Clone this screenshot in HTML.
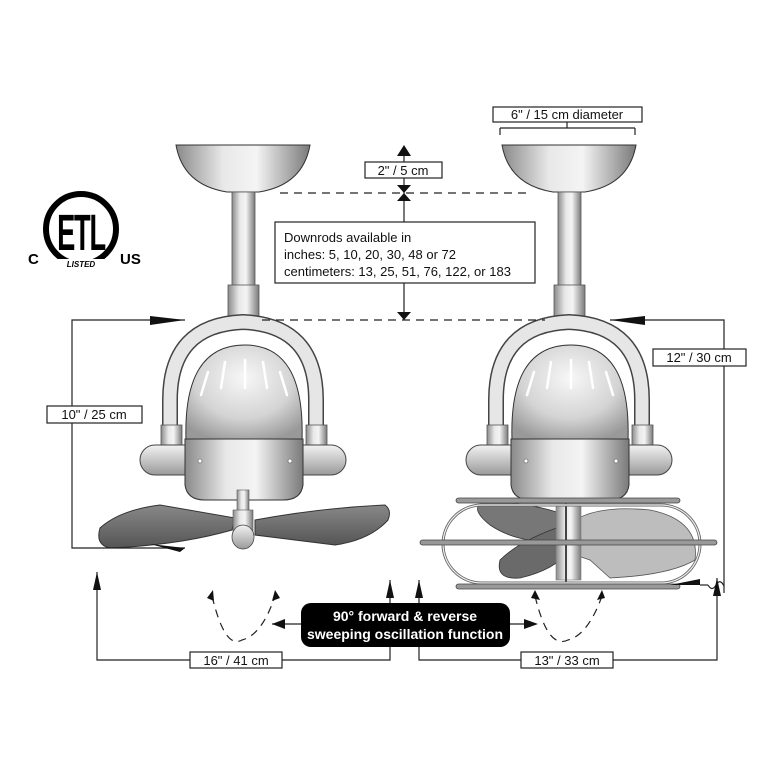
<!DOCTYPE html>
<html><head><meta charset="utf-8"><style>
html,body{margin:0;padding:0;background:#fff}
svg{display:block}
text{font-family:"Liberation Sans",sans-serif}
</style></head><body>
<svg width="780" height="780" viewBox="0 0 780 780" xmlns="http://www.w3.org/2000/svg">
<defs>
<linearGradient id="g" x1="0" x2="1" y1="0" y2="0">
<stop offset="0" stop-color="#8a8a8a"/><stop offset="0.35" stop-color="#e8e8e8"/><stop offset="0.6" stop-color="#f4f4f4"/><stop offset="1" stop-color="#7a7a7a"/>
</linearGradient>
<linearGradient id="gv" x1="0" x2="0" y1="0" y2="1">
<stop offset="0" stop-color="#f2f2f2"/><stop offset="1" stop-color="#9a9a9a"/>
</linearGradient>
<radialGradient id="egg" cx="0.5" cy="0.35" r="0.7">
<stop offset="0" stop-color="#f7f7f7"/><stop offset="0.6" stop-color="#d4d4d4"/><stop offset="1" stop-color="#999"/>
</radialGradient>
<linearGradient id="blade" x1="0" x2="0" y1="0" y2="1">
<stop offset="0" stop-color="#888"/><stop offset="1" stop-color="#555"/>
</linearGradient>
<g id="body">
<path d="M-67 145 L67 145 Q60 185 16 192 L-16 192 Q-60 185 -67 145 Z" fill="url(#g)" stroke="#333" stroke-width="1"/>
<rect x="-11" y="192" width="23" height="95" fill="url(#g)" stroke="#555" stroke-width="0.8"/>
<rect x="-15" y="285" width="31" height="35" fill="url(#g)" stroke="#555" stroke-width="0.8"/>
<path d="M-73 428 L-73 400 Q-73 325 0 322 Q73 325 73 400 L73 428" fill="none" stroke="#444" stroke-width="16"/>
<path d="M-73 428 L-73 400 Q-73 325 0 322 Q73 325 73 400 L73 428" fill="none" stroke="#e6e6e6" stroke-width="13"/>
<rect x="-82" y="425" width="21" height="22" fill="url(#g)" stroke="#555" stroke-width="0.8"/>
<rect x="63" y="425" width="21" height="22" fill="url(#g)" stroke="#555" stroke-width="0.8"/>
<rect x="-103" y="445" width="206" height="30" rx="15" fill="url(#gv)" stroke="#444" stroke-width="1"/>
<path d="M-57 440 Q-60 345 2 345 Q62 345 59 440 Z" fill="url(#egg)" stroke="#333" stroke-width="1"/>
<g stroke="#fff" stroke-width="2.5" stroke-linecap="round">
<line x1="-35" y1="372" x2="-42" y2="395"/><line x1="-18" y1="362" x2="-22" y2="388"/><line x1="2" y1="360" x2="2" y2="388"/><line x1="20" y1="362" x2="24" y2="388"/><line x1="37" y1="372" x2="44" y2="395"/>
</g>
<path d="M-58 439 L60 439 L60 485 Q58 500 40 500 L-38 500 Q-56 500 -58 485 Z" fill="url(#g)" stroke="#333" stroke-width="1"/>
<circle cx="-43" cy="461" r="2" fill="#fff" stroke="#555" stroke-width="0.6"/>
<circle cx="47" cy="461" r="2" fill="#fff" stroke="#555" stroke-width="0.6"/>
</g>
</defs>

<!-- ETL logo -->
<circle cx="81" cy="229" r="35" fill="none" stroke="#000" stroke-width="6"/>
<text transform="translate(81,250) scale(0.62,1.15)" font-size="44" font-weight="bold" text-anchor="middle" letter-spacing="-2">ETL</text>
<rect x="58" y="259" width="46" height="10" fill="#fff"/>
<text x="81" y="267" font-size="8" font-weight="bold" text-anchor="middle" font-style="italic">LISTED</text>
<text x="28" y="264" font-size="15" font-weight="bold">C</text>
<text x="120" y="264" font-size="15" font-weight="bold">US</text>

<!-- Left fan -->
<use href="#body" x="243"/>
<path d="M100 528 Q120 510 160 505 L235 518 L232 530 Q180 545 110 548 Q95 545 100 528Z" fill="url(#blade)" stroke="#333" stroke-width="1"/>
<path d="M255 520 Q320 508 385 505 Q392 510 388 520 Q370 540 335 545 L255 535 Z" fill="url(#blade)" stroke="#333" stroke-width="1"/>
<rect x="237" y="490" width="12" height="25" fill="url(#g)" stroke="#555" stroke-width="0.6"/>
<rect x="233" y="510" width="20" height="22" fill="url(#g)" stroke="#555" stroke-width="0.6"/>
<ellipse cx="243" cy="537" rx="11" ry="12" fill="url(#gv)" stroke="#444" stroke-width="0.8"/>

<!-- Right fan -->
<use href="#body" x="569"/>
<path d="M490 525 Q465 505 490 500 Q540 505 565 515 L560 540 Q520 545 490 525Z" fill="#777" stroke="#333" stroke-width="0.8"/>
<path d="M565 525 Q520 540 500 560 Q495 580 520 578 Q555 570 570 550Z" fill="#6a6a6a" stroke="#333" stroke-width="0.8"/>
<path d="M575 520 Q600 505 650 510 Q700 520 695 560 Q670 575 610 578 L590 560 L575 555Z" fill="#bdbdbd" stroke="#555" stroke-width="0.8"/>
<rect x="556" y="505" width="25" height="75" fill="url(#g)" stroke="#777" stroke-width="0.6"/>
<line x1="566" y1="500" x2="566" y2="588" stroke="#444" stroke-width="2"/>
<rect x="443" y="505" width="257" height="78" rx="39" fill="none" stroke="#666" stroke-width="3"/>
<rect x="443" y="505" width="257" height="78" rx="39" fill="none" stroke="#eee" stroke-width="1.2"/>
<rect x="456" y="498" width="224" height="5" rx="2.5" fill="#999" stroke="#444" stroke-width="0.8"/>
<rect x="420" y="540" width="297" height="5" rx="2.5" fill="#999" stroke="#444" stroke-width="0.8"/>
<rect x="456" y="584" width="224" height="5" rx="2.5" fill="#999" stroke="#444" stroke-width="0.8"/>

<!-- dimensions -->
<g stroke="#222" stroke-width="1.2" fill="none">
<polyline points="185,320 72,320 72,548 185,548"/>
<polyline points="610,320 724,320 724,593"/>
<path d="M708 585 Q712 592 716 585 Q720 578 724 586"/>
<line x1="700" y1="585" x2="708" y2="585"/>
<polyline points="97,572 97,660 390,660 390,580"/>
<polyline points="419,580 419,660 717,660 717,578"/>
<line x1="404" y1="148" x2="404" y2="320"/>
<line x1="500" y1="128" x2="500" y2="135"/><line x1="635" y1="128" x2="635" y2="135"/><line x1="500" y1="128" x2="635" y2="128"/><line x1="567" y1="121" x2="567" y2="128"/>
<line x1="272" y1="624" x2="302" y2="624"/><line x1="508" y1="624" x2="536" y2="624"/>
</g>
<g stroke="#222" stroke-width="1.2" stroke-dasharray="8,6" fill="none">
<line x1="280" y1="193" x2="530" y2="193"/>
<line x1="262" y1="320" x2="545" y2="320"/>
<path d="M212 596 Q225 650 242 640 Q262 635 275 596"/>
<path d="M535 596 Q548 650 568 640 Q588 635 602 596"/>
</g>
<g fill="#111">
<polygon points="150,316 185,320 150,325"/>
<polygon points="150,544 185,548 180,552"/>
<polygon points="645,316 610,320 645,325"/>
<polygon points="670,585 700,579 700,585"/>
<polygon points="93,590 97,572 101,590"/>
<polygon points="386,598 390,580 394,598"/>
<polygon points="415,598 419,580 423,598"/>
<polygon points="713,596 717,578 721,596"/>
<polygon points="397,156 404,145 411,156"/>
<polygon points="397,185 411,185 404,193"/>
<polygon points="397,201 411,201 404,193"/>
<polygon points="397,312 411,312 404,320"/>
<polygon points="285,619 272,624 285,629"/>
<polygon points="524,619 538,624 524,629"/>
<polygon points="207,598 213,590 214,601"/>
<polygon points="272,601 275,590 280,598"/>
<polygon points="531,598 535,590 540,600"/>
<polygon points="597,600 602,590 605,598"/>
</g>

<g font-size="13" fill="#111">
<rect x="493" y="107" width="149" height="15" fill="#fff" stroke="#222" stroke-width="1.2"/>
<text x="567" y="119" text-anchor="middle">6" / 15 cm diameter</text>
<rect x="365" y="162" width="77" height="16" fill="#fff" stroke="#222" stroke-width="1.2"/>
<text x="403" y="175" text-anchor="middle">2" / 5 cm</text>
<rect x="275" y="222" width="260" height="61" fill="#fff" stroke="#222" stroke-width="1.2"/>
<text x="284" y="242">Downrods available in</text>
<text x="284" y="259">inches: 5, 10, 20, 30, 48 or 72</text>
<text x="284" y="276">centimeters: 13, 25, 51, 76, 122, or 183</text>
<rect x="47" y="406" width="95" height="17" fill="#fff" stroke="#222" stroke-width="1.2"/>
<text x="94" y="419" text-anchor="middle">10" / 25 cm</text>
<rect x="653" y="349" width="93" height="17" fill="#fff" stroke="#222" stroke-width="1.2"/>
<text x="699" y="362" text-anchor="middle">12" / 30 cm</text>
<rect x="190" y="652" width="92" height="16" fill="#fff" stroke="#222" stroke-width="1.2"/>
<text x="236" y="665" text-anchor="middle">16" / 41 cm</text>
<rect x="521" y="652" width="92" height="16" fill="#fff" stroke="#222" stroke-width="1.2"/>
<text x="567" y="665" text-anchor="middle">13" / 33 cm</text>
</g>
<rect x="301" y="603" width="209" height="44" rx="10" fill="#000"/>
<text x="405" y="621" font-size="14" fill="#fff" text-anchor="middle" font-weight="bold">90° forward &amp;  reverse</text>
<text x="405" y="639" font-size="14" fill="#fff" text-anchor="middle" font-weight="bold">sweeping oscillation function</text>
</svg>
</body></html>
